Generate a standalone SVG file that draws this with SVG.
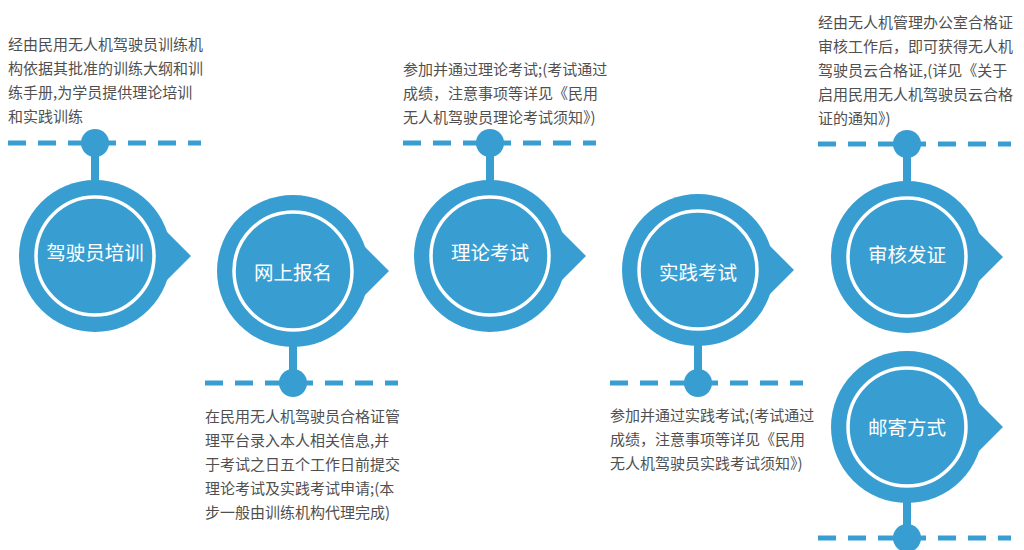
<svg xmlns="http://www.w3.org/2000/svg" xmlns:xlink="http://www.w3.org/1999/xlink" width="1024" height="550" viewBox="0 0 1024 550">
<style>
.desc{font-family:"Noto Sans CJK SC","Noto Sans",sans-serif;font-size:15px;fill:#505050;}
.lbl{font-family:"Noto Sans CJK SC","Noto Sans",sans-serif;font-size:19.5px;fill:#fff;text-anchor:middle;}
.dash{stroke:#389ed2;stroke-width:5;stroke-dasharray:18 12;fill:none;}
.stem{stroke:#389ed2;stroke-width:8;fill:none;}
.dot{fill:#389ed2;}
</style>
<defs>
<g id="badge">
<circle r="76" fill="#389ed2"/>
<polygon points="60,-36 96,0 60,36" fill="#389ed2"/>
<circle r="59" fill="none" stroke="#fff" stroke-width="3.5"/>
</g>
</defs>
<rect width="1024" height="550" fill="#fff"/>
<g id="connectors">
<line class="dash" x1="8" y1="143" x2="201" y2="143"/>
<line class="stem" x1="95" y1="143" x2="95" y2="185"/>
<circle class="dot" cx="95" cy="143" r="14"/>
<line class="dash" x1="205" y1="383" x2="398" y2="383"/>
<line class="stem" x1="293" y1="340" x2="293" y2="383"/>
<circle class="dot" cx="293" cy="383" r="14"/>
<line class="dash" x1="403" y1="143" x2="596" y2="143"/>
<line class="stem" x1="490" y1="143" x2="490" y2="185"/>
<circle class="dot" cx="490" cy="143" r="14"/>
<line class="dash" x1="610" y1="383" x2="803" y2="383"/>
<line class="stem" x1="698" y1="340" x2="698" y2="383"/>
<circle class="dot" cx="698" cy="383" r="14"/>
<line class="dash" x1="818" y1="144" x2="1011" y2="144"/>
<line class="stem" x1="907" y1="144" x2="907" y2="186"/>
<circle class="dot" cx="907" cy="144" r="14"/>
<line class="dash" x1="818" y1="538" x2="1011" y2="538"/>
<line class="stem" x1="907" y1="495" x2="907" y2="538"/>
<circle class="dot" cx="907" cy="538" r="14"/>
</g>
<g id="node-training">
<use xlink:href="#badge" href="#badge" x="95" y="256"/>
<text class="lbl" x="95" y="260">驾驶员培训</text>
<text class="desc" x="8" y="50">经由民用无人机驾驶员训练机</text>
<text class="desc" x="8" y="74">构依据其批准的训练大纲和训</text>
<text class="desc" x="8" y="98">练手册,为学员提供理论培训</text>
<text class="desc" x="8" y="122">和实践训练</text>
</g>
<g id="node-signup">
<use xlink:href="#badge" href="#badge" x="293" y="271"/>
<text class="lbl" x="293" y="280">网上报名</text>
<text class="desc" x="205" y="422">在民用无人机驾驶员合格证管</text>
<text class="desc" x="205" y="446">理平台录入本人相关信息,并</text>
<text class="desc" x="205" y="470">于考试之日五个工作日前提交</text>
<text class="desc" x="205" y="494">理论考试及实践考试申请;(本</text>
<text class="desc" x="205" y="518">步一般由训练机构代理完成)</text>
</g>
<g id="node-theory">
<use xlink:href="#badge" href="#badge" x="490" y="256"/>
<text class="lbl" x="490" y="260">理论考试</text>
<text class="desc" x="403" y="75">参加并通过理论考试;(考试通过</text>
<text class="desc" x="403" y="99">成绩，注意事项等详见《民用</text>
<text class="desc" x="403" y="123">无人机驾驶员理论考试须知》)</text>
</g>
<g id="node-practice">
<use xlink:href="#badge" href="#badge" x="698" y="270"/>
<text class="lbl" x="698" y="280">实践考试</text>
<text class="desc" x="610" y="421">参加并通过实践考试;(考试通过</text>
<text class="desc" x="610" y="445">成绩，注意事项等详见《民用</text>
<text class="desc" x="610" y="469">无人机驾驶员实践考试须知》)</text>
</g>
<g id="node-certify">
<use xlink:href="#badge" href="#badge" x="907" y="257"/>
<text class="lbl" x="907" y="262">审核发证</text>
<text class="desc" x="818" y="28">经由无人机管理办公室合格证</text>
<text class="desc" x="818" y="52">审核工作后，即可获得无人机</text>
<text class="desc" x="818" y="76">驾驶员云合格证,(详见《关于</text>
<text class="desc" x="818" y="100">启用民用无人机驾驶员云合格</text>
<text class="desc" x="818" y="124">证的通知》)</text>
</g>
<g id="node-mail">
<use xlink:href="#badge" href="#badge" x="907" y="427"/>
<text class="lbl" x="907" y="435">邮寄方式</text>
</g>
</svg>
